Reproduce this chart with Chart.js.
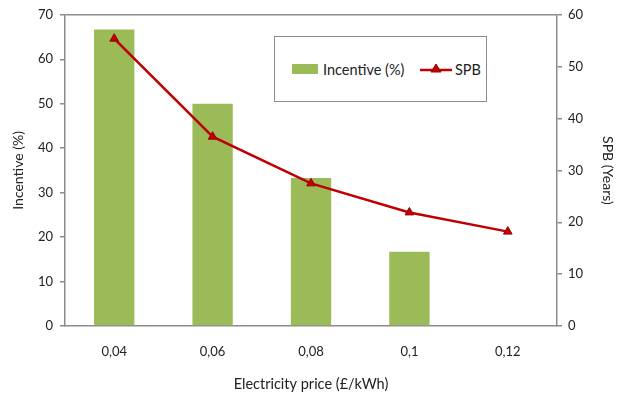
<!DOCTYPE html>
<html>
<head>
<meta charset="utf-8">
<script src="https://cdn.jsdelivr.net/npm/chart.js@4"></script>
<style>
  html, body { margin: 0; padding: 0; background: #fff; }
  #wrap { position: relative; width: 618px; height: 403px; }
  #c { position: absolute; left: 0; top: 0; }
  #legend {
    position: absolute; left: 274px; top: 36px; width: 211px; height: 64px;
    border: 1.5px solid #8c8c8c; background: #fff; box-sizing: content-box;
    font-family: Lato, "Open Sans", sans-serif; font-size: 14.5px; color: #222;
  }
  .item { position: absolute; top: 0; height: 100%; display: flex; align-items: center; white-space: nowrap; }
  .sw { display: inline-block; width: 26px; height: 10px; margin-right: 5px; }
</style>
</head>
<body>
<div id="wrap">
  <canvas id="c" width="618" height="403"></canvas>
  <div id="legend"></div>
</div>
<script>
const categories = ["0,04", "0,06", "0,08", "0,1", "0,12"];
const incentive = [66.7, 50.0, 33.3, 16.7, 0];
const spb = [55.4, 36.5, 27.5, 21.9, 18.2];
const leftTicksMax = 70;
const rightTicksMax = 60;
const seriesNames = ["Incentive (%)", "SPB"];
const xTitle = "Electricity price (£/kWh)";
const yTitle = "Incentive (%)";
const y1Title = "SPB (Years)";

const GREEN = "#9BBB59";
const RED = "#C00000";
const AXIS = "#8c8c8c";
const FONT = "Lato, 'Open Sans', sans-serif";
const TXT = "#222";

const chart = new Chart(document.getElementById("c"), {
  data: {
    labels: categories,
    datasets: [
      {
        type: "line", label: seriesNames[1], data: spb, yAxisID: "y1", order: 0,
        borderColor: RED, borderWidth: 2.5, backgroundColor: RED,
        pointStyle: "triangle", pointRadius: 5, pointBackgroundColor: RED,
        pointBorderColor: "#a00000", pointBorderWidth: 1, tension: 0
      },
      {
        type: "bar", label: seriesNames[0], data: incentive, yAxisID: "y", order: 1,
        backgroundColor: GREEN, borderWidth: 0,
        categoryPercentage: 1.0, barPercentage: 0.41
      }
    ]
  },
  options: {
    responsive: false, animation: false,
    layout: { padding: { top: 13, left: 0, right: 0, bottom: 0 } },
    plugins: { legend: { display: false }, tooltip: { enabled: false } },
    scales: {
      x: {
        grid: { display: false, drawTicks: false },
        border: { display: true, color: AXIS, width: 1.5 },
        ticks: { color: TXT, font: { family: FONT, size: 13 }, padding: 18, maxRotation: 0 },
        title: { display: true, text: xTitle, color: TXT, font: { family: FONT, size: 14.5 }, padding: { top: 12, bottom: 10 } },
        afterFit: s => { s.height = 77; }
      },
      y: {
        position: "left", min: 0, max: leftTicksMax,
        ticks: { stepSize: 10, color: TXT, font: { family: FONT, size: 13 }, padding: 7 },
        grid: {
          drawOnChartArea: true, tickLength: 5, lineWidth: 1.5,
          color: ctx => (ctx.tick && ctx.tick.value === leftTicksMax) ? AXIS : "rgba(0,0,0,0)",
          tickColor: AXIS
        },
        border: { display: true, color: AXIS, width: 1.5 },
        title: { display: true, text: yTitle, color: TXT, font: { family: FONT, size: 14 }, padding: { top: 10, bottom: 0 } },
        afterFit: s => { s.width = 65; }
      },
      y1: {
        position: "right", min: 0, max: rightTicksMax,
        ticks: { stepSize: 10, color: TXT, font: { family: FONT, size: 13 }, padding: 6 },
        grid: { drawOnChartArea: false, tickLength: 5, color: AXIS, lineWidth: 1.5 },
        border: { display: true, color: AXIS, width: 1.5 },
        title: { display: true, text: y1Title, color: TXT, font: { family: FONT, size: 14 }, padding: { top: 2, bottom: 0 } },
        afterFit: s => { s.width = 61; }
      }
    }
  }
});

// HTML legend built from the chart datasets
const lg = document.getElementById("legend");
const barDs = chart.data.datasets[1], lineDs = chart.data.datasets[0];
lg.innerHTML =
  '<div class="item" style="left:17px"><span class="sw" style="background:' + barDs.backgroundColor + '"></span>' + barDs.label + '</div>' +
  '<div class="item" style="left:145px"><svg width="32" height="12" style="margin-right:3px"><line x1="0" y1="7" x2="32" y2="7" stroke="' + lineDs.borderColor + '" stroke-width="2.5"/><polygon points="16,1 21,9 11,9" fill="' + lineDs.borderColor + '" stroke="#a00000" stroke-width="1"/></svg>' + lineDs.label + '</div>';
</script>
</body>
</html>
